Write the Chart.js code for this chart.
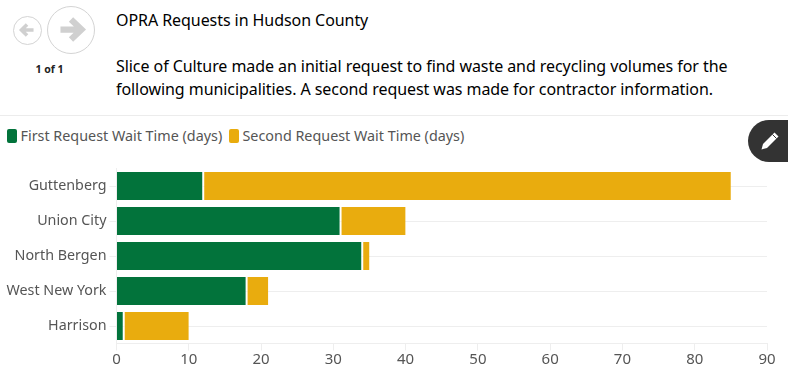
<!DOCTYPE html>
<html>
<head>
<meta charset="utf-8">
<title>OPRA Requests in Hudson County</title>
<script src="https://cdn.jsdelivr.net/npm/chart.js@4"></script>
<style>
    html, body { margin: 0; padding: 0; background: #fff; overflow: hidden; }
    body { width: 788px; height: 375px; position: relative; font-family: "Noto Sans", sans-serif; }
    .nav { position: absolute; box-sizing: border-box; border: 1px solid #d4d4d4; border-radius: 50%; }
    .nav svg { position: absolute; left: 0; top: 0; width: 100%; height: 100%; }
    #prev { left: 13px; top: 16px; width: 29px; height: 29px; }
    #next { left: 47px; top: 6px; width: 48px; height: 48px; }
    #pager { position: absolute; left: 29px; top: 62px; width: 41px; text-align: center; font-size: 10.5px; font-weight: 700; color: #222; white-space: nowrap; }
    #intro { position: absolute; left: 116px; top: 9px; width: 660px; color: #000; font-size: 16px; line-height: 23px; letter-spacing: -0.065px; }
    #intro p { margin: 0 0 23px 0; white-space: nowrap; }
    #rule { position: absolute; left: 0; top: 115px; width: 788px; height: 1px; background: #ececec; }
    #edit { position: absolute; left: 748px; top: 120px; width: 40px; height: 42px; background: #333; border-radius: 21px 0 0 21px; }
    #edit svg { position: absolute; left: 12px; top: 11px; width: 20px; height: 20px; }
    #legend { position: absolute; left: 0; top: 126px; height: 20px; font-size: 14.35px; line-height: 20px; color: #555; white-space: nowrap; }
    #legend i { position: absolute; top: 3px; width: 10px; height: 14px; border-radius: 2px; }
    #legend span { position: absolute; top: 0; }
    #chartBox { position: absolute; left: 0; top: 116px; width: 788px; height: 259px; }
</style>
</head>
<body>
    <div class="nav" id="prev"><svg viewBox="0 0 29 29"><path d="M14 8 L8 14 L14 20 M8 14 H21" fill="none" stroke="#d0d0d0" stroke-width="3.8"/></svg></div>
    <div class="nav" id="next"><svg viewBox="0 0 48 48"><path d="M24 13 L35 23.5 L24 34 M34 23.5 H13" fill="none" stroke="#d0d0d0" stroke-width="6.5"/></svg></div>
    <div id="pager">1 of 1</div>
    <div id="intro">
        <p>OPRA Requests in Hudson County</p>
        <p style="margin:0">Slice of Culture made an initial request to find waste and recycling volumes for the<br>following municipalities. A second request was made for contractor information.</p>
    </div>
    <div id="rule"></div>
    <div id="edit"><svg viewBox="0 0 20 20"><path d="M14.5 1.5 L18.5 5.5 L7 17 L1.5 18.5 L3 13 Z" fill="#fff"/><path d="M12.5 3.5 L16.5 7.5" stroke="#333" stroke-width="1"/></svg></div>
    <div id="legend"></div>
    <div id="chartBox"><canvas id="waitChart"></canvas></div>

<script>
// Chart data
const categories = ['Guttenberg', 'Union City', 'North Bergen', 'West New York', 'Harrison'];
const firstRequestDays = [12, 31, 34, 18, 1];
const secondRequestDays = [73, 9, 1, 3, 9];
const seriesNames = ['First Request Wait Time (days)', 'Second Request Wait Time (days)'];
const seriesColors = ['#02733B', '#E9AC0E'];
const xTicks = [0, 10, 20, 30, 40, 50, 60, 70, 80, 90];

const textColor = '#555555';
const gridColor = '#eeeeee';
const fontFamily = '"Noto Sans", sans-serif';

// Legend sits in the page so the swatch and text gap can follow the original
const legendBox = document.getElementById('legend');
[7, 229].forEach(function(left, i) {
    legendBox.innerHTML += '<i style="left:' + left + 'px;background:' + seriesColors[i] + '"></i>' +
        '<span style="left:' + (left + 13.5) + 'px">' + seriesNames[i] + '</span>';
});

new Chart(document.getElementById('waitChart'), {
    type: 'bar',
    data: {
        labels: categories,
        datasets: [
            { label: seriesNames[0], data: firstRequestDays, backgroundColor: seriesColors[0], borderColor: '#ffffff', borderWidth: { right: 1 }, borderSkipped: false },
            { label: seriesNames[1], data: secondRequestDays, backgroundColor: seriesColors[1], borderColor: '#ffffff', borderWidth: { left: 1 }, borderSkipped: false }
        ]
    },
    options: {
        indexAxis: 'y',
        responsive: true,
        maintainAspectRatio: false,
        animation: false,
        barPercentage: 0.8,
        categoryPercentage: 1,
        layout: { padding: { left: 0, right: 21, top: 52.5, bottom: 0 } },
        plugins: {
            legend: { display: false },
            tooltip: { enabled: false }
        },
        scales: {
            x: {
                stacked: true,
                min: 0,
                max: 90,
                afterBuildTicks: function(axis) {
                    axis.ticks = xTicks.map(function(v) { return { value: v }; });
                },
                afterFit: function(axis) { axis.height = 31.5; },
                grid: { drawOnChartArea: false, tickLength: 7, tickColor: gridColor },
                border: { display: true, color: gridColor },
                ticks: { color: textColor, maxRotation: 0, padding: 0, font: { family: fontFamily, size: 15 } }
            },
            y: {
                stacked: true,
                afterFit: function(axis) { axis.width = 116.5; },
                grid: { offset: false, color: gridColor, tickLength: 7, tickColor: gridColor },
                border: { display: true, color: gridColor },
                ticks: { color: textColor, padding: 3, font: { family: fontFamily, size: 14.3 } }
            }
        }
    }
});
</script>
</body>
</html>
